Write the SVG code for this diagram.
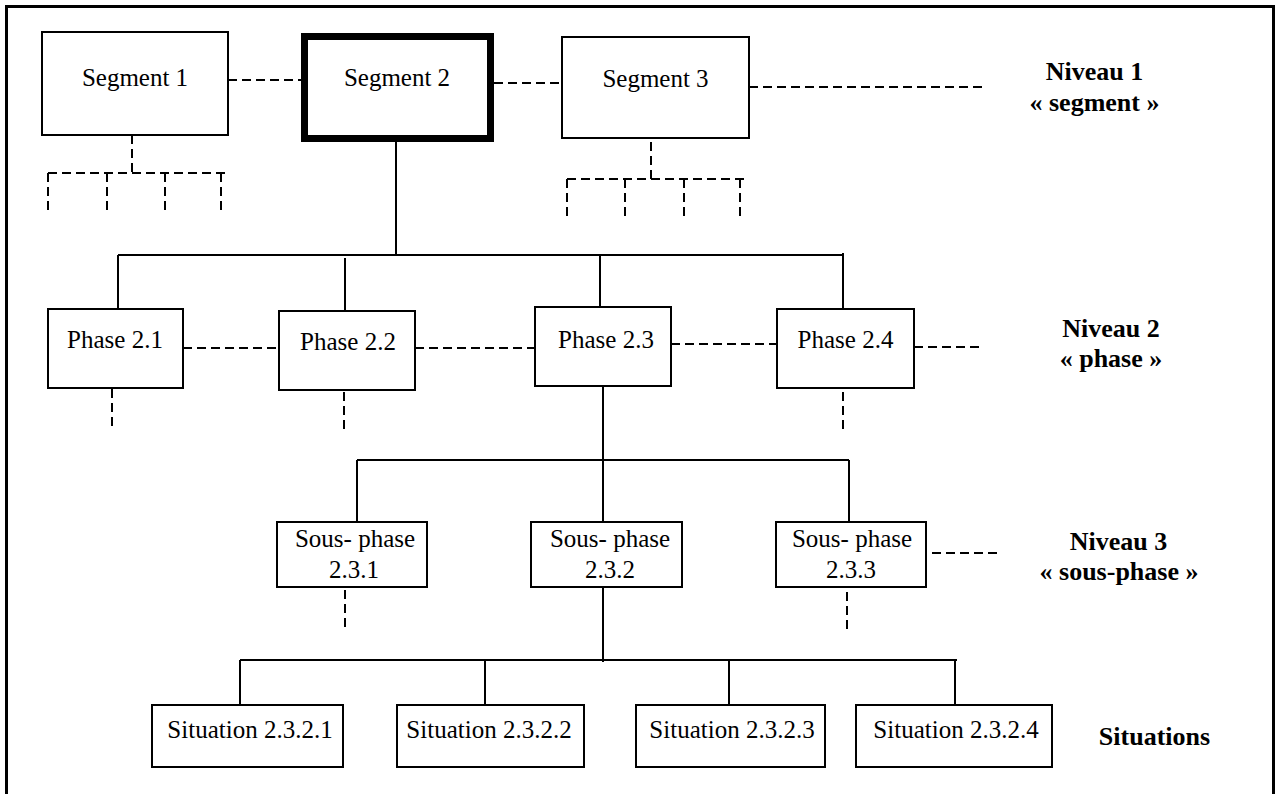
<svg xmlns="http://www.w3.org/2000/svg" width="1276" height="794" viewBox="0 0 1276 794">
<style>
.box{fill:#fff;stroke:#000;stroke-width:2}
.thick{fill:#fff;stroke:#000;stroke-width:7}
.t{font-family:"Liberation Serif","Times New Roman",serif;font-size:25px;fill:#000;text-anchor:middle}
.b{font-family:"Liberation Serif","Times New Roman",serif;font-size:26px;font-weight:bold;fill:#000;text-anchor:middle}
.s{stroke:#000;stroke-width:2;fill:none}
.d{stroke:#000;stroke-width:2;fill:none;stroke-dasharray:9 5}
</style>
<rect x="0" y="0" width="1276" height="794" fill="#fff"/>
<path d="M6.5,794 V6.5 H1273.5 V794" fill="none" stroke="#000" stroke-width="3"/>
<g id="connectors">
  <path class="s" d="M396,142 V255 M118,255 H843 M118,255 V309 M345,258 V311 M600,255 V307 M843,253 V309"/>
  <path class="s" d="M603,386 V460 M357,460 H849 M357,460 V522 M603,460 V522 M849,460 V522"/>
  <path class="s" d="M603,587 V662 M240,660 H957 M240,660 V705 M485,660 V705 M729,660 V705 M955,660 V705"/>
  <path class="d" d="M228,80 H301 M494,83 H562 M749,87 H983"/>
  <path class="d" d="M132,135 V173 M48,173 H229 M48,173 V215 M107,173 V215 M165,173 V215 M221,173 V215"/>
  <path class="d" d="M651,142 V179 M567,179 H747 M567,179 V221 M625,179 V221 M684,179 V221 M740,179 V221"/>
  <path class="d" d="M183,348 H279 M415,348 H535 M671,344 H778 M914,347 H981"/>
  <path class="d" d="M112,389 V428 M344,392 V433 M843,392 V432"/>
  <path class="d" d="M345,590 V631 M847,592 V633 M932,553 H998"/>
</g>
<g id="segment1"><rect class="box" x="42" y="32" width="186" height="103"/><text class="t" x="135" y="86">Segment 1</text></g>
<g id="segment2"><rect class="thick" x="304.5" y="36.5" width="186" height="102"/><text class="t" x="397" y="86">Segment 2</text></g>
<g id="segment3"><rect class="box" x="562" y="37" width="187" height="101"/><text class="t" x="655.5" y="87">Segment 3</text></g>
<g id="phase21"><rect class="box" x="48" y="309" width="135" height="79"/><text class="t" x="115" y="348">Phase 2.1</text></g>
<g id="phase22"><rect class="box" x="279" y="311" width="136" height="79"/><text class="t" x="348" y="350">Phase 2.2</text></g>
<g id="phase23"><rect class="box" x="535" y="307" width="136" height="79"/><text class="t" x="606" y="348">Phase 2.3</text></g>
<g id="phase24"><rect class="box" x="777" y="309" width="137" height="79"/><text class="t" x="845.5" y="348">Phase 2.4</text></g>
<g id="sp231"><rect class="box" x="277" y="522" width="150" height="65"/><text class="t" x="355" y="547">Sous- phase</text><text class="t" x="354" y="578">2.3.1</text></g>
<g id="sp232"><rect class="box" x="531" y="522" width="151" height="65"/><text class="t" x="610" y="547">Sous- phase</text><text class="t" x="610" y="578">2.3.2</text></g>
<g id="sp233"><rect class="box" x="776" y="522" width="150" height="65"/><text class="t" x="852" y="547">Sous- phase</text><text class="t" x="851" y="578">2.3.3</text></g>
<g id="sit1"><rect class="box" x="152" y="705" width="191" height="62"/><text class="t" x="250" y="738">Situation 2.3.2.1</text></g>
<g id="sit2"><rect class="box" x="397" y="705" width="187" height="62"/><text class="t" x="489" y="738">Situation 2.3.2.2</text></g>
<g id="sit3"><rect class="box" x="636" y="705" width="189" height="62"/><text class="t" x="732" y="738">Situation 2.3.2.3</text></g>
<g id="sit4"><rect class="box" x="856" y="705" width="196" height="62"/><text class="t" x="956" y="738">Situation 2.3.2.4</text></g>
<g id="labels">
  <text class="b" x="1094.5" y="80">Niveau 1</text>
  <text class="b" x="1094.5" y="111">« segment »</text>
  <text class="b" x="1111" y="337">Niveau 2</text>
  <text class="b" x="1111" y="367">« phase »</text>
  <text class="b" x="1118.5" y="550">Niveau 3</text>
  <text class="b" x="1119" y="580">« sous-phase »</text>
  <text class="b" x="1154.5" y="745">Situations</text>
</g>
</svg>
